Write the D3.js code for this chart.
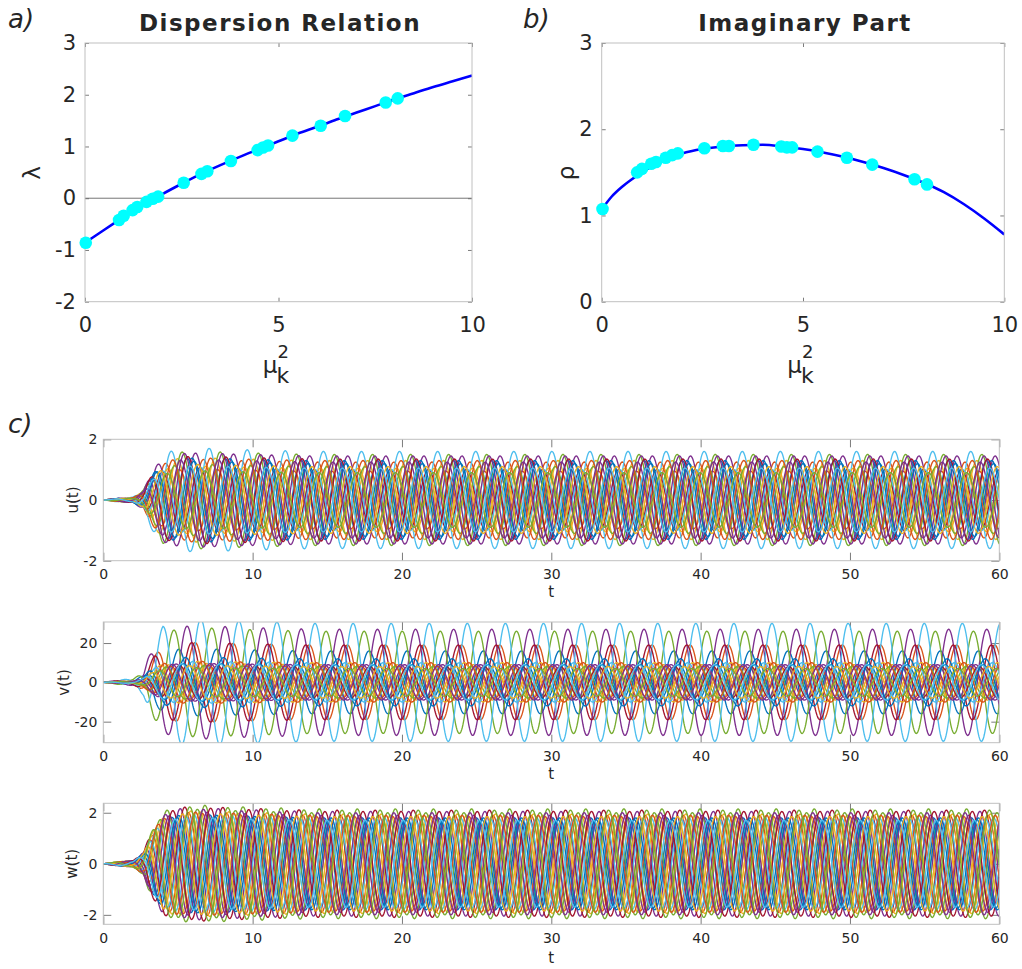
<!DOCTYPE html>
<html><head><meta charset="utf-8">
<script src="https://cdn.jsdelivr.net/npm/d3@7/dist/d3.min.js"></script>
<style>
body{margin:0;background:#fff}
svg{display:block}
text{font-family:"DejaVu Sans",sans-serif;fill:#262626}
</style>
</head><body>
<svg id="c" width="1022" height="969"></svg>
<script>
// ---------------- DATA ----------------
// eigenvalues mu_k^2 of the network and their dispersion values
const muK2    = [0.02,0.88,1.00,1.23,1.35,1.59,1.75,1.89,2.55,3.01,3.16,3.77,4.46,4.60,4.73,5.36,6.09,6.72,7.77,8.08];
const lambdaK = [-0.86,-0.42,-0.34,-0.23,-0.17,-0.07,-0.01,0.03,0.30,0.47,0.52,0.72,0.93,0.98,1.02,1.21,1.40,1.59,1.85,1.93];
const rhoK    = [1.075,1.50,1.54,1.60,1.62,1.67,1.70,1.72,1.78,1.805,1.805,1.82,1.80,1.79,1.79,1.74,1.67,1.59,1.42,1.36];
// continuous dispersion curves
const curveMu     = [0,0.25,0.5,0.75,1,1.5,2,2.5,3,3.5,4,4.5,5,5.5,6,6.5,7,7.5,8,8.5,9,9.5,10];
const curveLambda = [-0.86,-0.735,-0.61,-0.485,-0.36,-0.135,0.08,0.28,0.47,0.64,0.80,0.95,1.10,1.25,1.38,1.52,1.65,1.78,1.91,2.03,2.15,2.26,2.37];
const curveRho    = [1.07,1.22,1.33,1.42,1.50,1.635,1.72,1.77,1.80,1.815,1.82,1.80,1.77,1.73,1.68,1.62,1.55,1.47,1.38,1.27,1.13,0.965,0.78];
// tick labels
const xTicksMu     = [0,5,10];
const yTicksLambda = [-2,-1,0,1,2,3];
const yTicksRho    = [0,1,2,3];
const xTicksT      = [0,10,20,30,40,50,60];
const yTicksU      = [-2,0,2];
const yTicksV      = [-20,0,20];
const yTicksW      = [-2,0,2];
// time series of the 20 nodes: common period, growth envelope,
// per-node phase (fraction of a cycle) and saturated amplitudes of u, v, w
const period   = 2.55;
const envT     = [0, 1.0, 2.0, 2.7, 3.0, 3.5, 4.0, 5.0, 6.5, 9.0, 14, 60];
const envA     = [0, 0.04,0.06,0.22,0.45,0.75,0.95,1.05,1.07,1.04,1.0,1.0];
const phaseK   = [0.05,0.62,0.31,0.83,0.18,0.47,0.71,0.92,0.25,0.55,0.12,0.38,0.68,0.03,0.87,0.43,0.77,0.22,0.58,0.97];
const ampU     = [1.30,1.25,1.30,1.45,1.50,1.60,1.00,1.30,0.95,1.05,1.45,1.10,1.00,1.35,1.20,1.30,1.10,1.25,0.90,1.05];
const ampV     = [16,19,9,27,26,30,19,9,8,10,9,8,10,8,12,10,8,9,7,9];
const ampW     = [1.80,1.90,1.90,2.05,2.15,1.80,2.10,1.75,1.85,1.95,1.90,2.00,1.75,2.05,1.80,1.90,1.85,2.00,2.10,1.70];
const lagU = 0.0, lagV = 0.22, lagW = 0.40;
const lineColors = ["#0072BD","#D95319","#EDB120","#7E2F8E","#77AC30","#4DBEEE","#A2142F"];

// ---------------- DRAWING ----------------
const svg = d3.select("#c");
const fmt = d => String(d);

function panel(o){
  const g = svg.append("g");
  const x = d3.scaleLinear().domain(o.xd).range([o.x0,o.x1]);
  const y = d3.scaleLinear().domain(o.yd).range([o.y1,o.y0]);
  g.append("rect").attr("x",o.x0).attr("y",o.y0).attr("width",o.x1-o.x0).attr("height",o.y1-o.y0)
    .attr("fill","#fff");
  const axes = [
    [d3.axisBottom(x).tickValues(o.xt).tickSize(-o.tl).tickPadding(o.xpad).tickFormat(fmt), `translate(0,${o.y1})`],
    [d3.axisTop(x).tickValues(o.xt).tickSize(-o.tl).tickFormat(""), `translate(0,${o.y0})`],
    [d3.axisLeft(y).tickValues(o.yt).tickSize(-o.tl).tickPadding(o.ypad).tickFormat(fmt), `translate(${o.x0},0)`],
    [d3.axisRight(y).tickValues(o.yt).tickSize(-o.tl).tickFormat(""), `translate(${o.x1},0)`]
  ];
  axes.forEach(([ax,tr])=>{
    const a = g.append("g").attr("transform",tr).call(ax);
    a.select(".domain").remove();
    a.selectAll("line").attr("stroke","#5a5a5a").attr("stroke-width",0.8);
    a.selectAll("text").attr("fill","#262626").style("font-size",o.fs+"px")
      .style("font-family","DejaVu Sans, sans-serif");
  });
  const clipId = "clip"+Math.round(o.x0)+"_"+Math.round(o.y0);
  svg.append("clipPath").attr("id",clipId).append("rect")
    .attr("x",o.x0).attr("y",o.y0).attr("width",o.x1-o.x0).attr("height",o.y1-o.y0);
  const plot = g.append("g").attr("clip-path",`url(#${clipId})`);
  const frame = g.append("rect").attr("x",o.x0).attr("y",o.y0).attr("width",o.x1-o.x0).attr("height",o.y1-o.y0)
    .attr("fill","none").attr("stroke","#c0c0c0").attr("stroke-width",1);
  return {g,x,y,plot,frame};
}

// ---- panel a ----
const pa = panel({x0:85,x1:472,y0:43,y1:301.7,xd:[0,10],yd:[-2,3],xt:xTicksMu,yt:yTicksLambda,tl:4,fs:21,xpad:15,ypad:9});
pa.plot.append("line").attr("x1",pa.x(0)).attr("x2",pa.x(10)).attr("y1",pa.y(0)).attr("y2",pa.y(0))
  .attr("stroke","#666").attr("stroke-width",0.9);
pa.plot.append("path").datum(curveMu.map((m,i)=>[m,curveLambda[i]]))
  .attr("d",d3.line().x(d=>pa.x(d[0])).y(d=>pa.y(d[1])).curve(d3.curveMonotoneX))
  .attr("fill","none").attr("stroke","#0000FF").attr("stroke-width",2.6);
pa.g.selectAll("circle.pt").data(muK2.map((m,i)=>[m,lambdaK[i]])).join("circle")
  .attr("cx",d=>pa.x(d[0])).attr("cy",d=>pa.y(d[1])).attr("r",6.3).attr("fill","#00FFFF");

// ---- panel b ----
const pb = panel({x0:601.7,x1:1004.3,y0:43,y1:301.7,xd:[0,10],yd:[0,3],xt:xTicksMu,yt:yTicksRho,tl:4,fs:21,xpad:15,ypad:9});
pb.plot.append("path").datum(curveMu.map((m,i)=>[m,curveRho[i]]))
  .attr("d",d3.line().x(d=>pb.x(d[0])).y(d=>pb.y(d[1])).curve(d3.curveMonotoneX))
  .attr("fill","none").attr("stroke","#0000FF").attr("stroke-width",2.6);
pb.g.selectAll("circle.pt").data(muK2.map((m,i)=>[m,rhoK[i]])).join("circle")
  .attr("cx",d=>pb.x(d[0])).attr("cy",d=>pb.y(d[1])).attr("r",6.3).attr("fill","#00FFFF");

// titles & labels a/b
function txt(x,y,s,opt={}){
  const t = svg.append("text").attr("x",x).attr("y",y).text(s)
    .style("font-size",(opt.fs||21)+"px").attr("text-anchor",opt.anchor||"start");
  if(opt.bold) t.style("font-weight","bold").attr("fill","#000");
  if(opt.italic) t.style("font-style","italic").attr("fill","#000");
  if(opt.rot) t.attr("transform",`rotate(-90,${x},${y})`);
  if(opt.ls) t.style("letter-spacing",opt.ls+"px");
  return t;
}
txt(8,28,"a)",{fs:26,italic:true});
txt(523,28,"b)",{fs:26,italic:true});
txt(8,433,"c)",{fs:26,italic:true});
txt(280,31,"Dispersion Relation",{fs:23,bold:true,anchor:"middle",ls:1.5});
txt(805,31,"Imaginary Part",{fs:23,bold:true,anchor:"middle",ls:1.5});
txt(40,173,"λ",{fs:23,anchor:"middle",rot:true});
txt(574,173,"ρ",{fs:23,anchor:"middle",rot:true});
function muLabel(cx){
  txt(cx-1,373,"μ",{fs:23,anchor:"end"});
  txt(cx-1,358,"2",{fs:18});
  txt(cx-2,383,"k",{fs:22});
}
muLabel(pa.x(5));
muLabel(pb.x(5));

// ---- panel c ----
function envAt(t){
  for(let i=1;i<envT.length;i++){
    if(t<=envT[i]){const f=(t-envT[i-1])/(envT[i]-envT[i-1]);return envA[i-1]+f*(envA[i]-envA[i-1]);}
  }
  return envA[envA.length-1];
}
const tGrid = d3.range(0,60.0001,0.04);
function drawSeries(p, amps, lag){
  const line = d3.line().x(d=>p.x(d[0])).y(d=>p.y(d[1]));
  amps.forEach((A,i)=>{
    const pts = tGrid.map(t=>[t, A*envAt(t)*Math.sin(2*Math.PI*(t/period + phaseK[i] + lag))]);
    p.plot.append("path").datum(pts).attr("d",line).attr("fill","none")
      .attr("stroke",lineColors[i%lineColors.length]).attr("stroke-width",1.35);
  });
}
const pu = panel({x0:103.3,x1:999.3,y0:439.3,y1:560.7,xd:[0,60],yd:[-2,2],xt:xTicksT,yt:yTicksU,tl:8,fs:14,xpad:8.5,ypad:6});
drawSeries(pu, ampU, lagU);
const pv = panel({x0:103.3,x1:999.3,y0:622,y1:742.7,xd:[0,60],yd:[-30.7,30.7],xt:xTicksT,yt:yTicksV,tl:8,fs:14,xpad:8.5,ypad:6});
drawSeries(pv, ampV, lagV);
const pw = panel({x0:103.3,x1:999.3,y0:803.3,y1:924.3,xd:[0,60],yd:[-2.37,2.37],xt:xTicksT,yt:yTicksW,tl:8,fs:14,xpad:8.5,ypad:6});
drawSeries(pw, ampW, lagW);

txt(77.5,500,"u(t)",{fs:15,anchor:"middle",rot:true});
txt(69,682.4,"v(t)",{fs:15,anchor:"middle",rot:true});
txt(77.5,863.8,"w(t)",{fs:15,anchor:"middle",rot:true});
txt(551.3,597,"t",{fs:15,anchor:"middle"});
txt(551.3,779,"t",{fs:15,anchor:"middle"});
txt(551.3,963,"t",{fs:15,anchor:"middle"});
</script>
</body></html>
